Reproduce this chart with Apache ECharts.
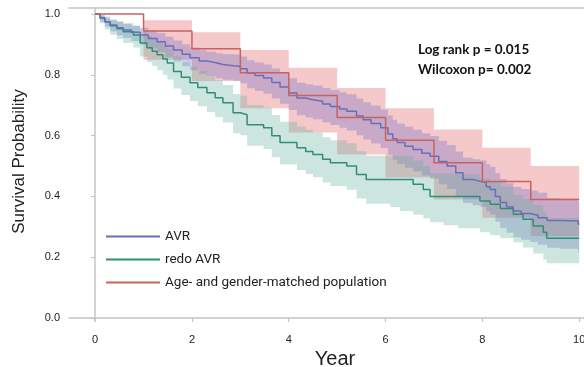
<!DOCTYPE html>
<html><head><meta charset="utf-8">
<script src="https://cdn.jsdelivr.net/npm/echarts@6/dist/echarts.min.js"></script>
<style>html,body{margin:0;padding:0;background:#fff}#c{width:584px;height:367px}</style>
</head><body><div id="c"></div>
<script>
// ---- data ----
const xTicks = [0, 2, 4, 6, 8, 10];
const yTicks = [0, 0.2, 0.4, 0.6, 0.8, 1.0];
const seriesNames = ['AVR', 'redo AVR', 'Age- and gender-matched population'];
const statLines = ['Log rank p = 0.015', 'Wilcoxon p= 0.002'];

const avrT  = [0,0.10,0.20,0.31,0.45,0.58,0.75,0.93,1.10,1.28,1.45,1.62,1.80,1.96,2.15,2.30,2.50,2.64,2.85,3.00,3.14,3.30,3.48,3.65,3.82,4.00,4.17,4.35,4.50,4.70,4.86,5.05,5.20,5.40,5.54,5.70,5.90,6.05,6.15,6.24,6.40,6.57,6.75,6.92,7.10,7.27,7.45,7.60,7.80,7.95,8.08,8.16,8.27,8.37,8.50,8.64,8.80,8.99,9.15,9.34,9.60,9.98,10.00];
const avrS  = [1.000,0.987,0.975,0.964,0.955,0.948,0.940,0.931,0.920,0.909,0.895,0.882,0.868,0.856,0.846,0.840,0.834,0.830,0.828,0.820,0.806,0.798,0.790,0.775,0.760,0.740,0.724,0.718,0.713,0.704,0.696,0.688,0.680,0.665,0.652,0.640,0.626,0.605,0.590,0.577,0.565,0.554,0.542,0.532,0.515,0.500,0.478,0.456,0.450,0.446,0.432,0.423,0.400,0.380,0.365,0.352,0.344,0.338,0.330,0.321,0.319,0.308,0.308];
const avrLo = [1.000,0.975,0.958,0.943,0.930,0.921,0.911,0.900,0.887,0.874,0.858,0.844,0.828,0.815,0.803,0.796,0.789,0.784,0.781,0.772,0.756,0.747,0.738,0.722,0.705,0.684,0.667,0.660,0.654,0.644,0.635,0.626,0.617,0.601,0.587,0.574,0.559,0.537,0.521,0.507,0.494,0.482,0.469,0.458,0.440,0.424,0.401,0.378,0.371,0.366,0.351,0.341,0.317,0.296,0.280,0.266,0.257,0.250,0.241,0.231,0.228,0.216,0.216];
const avrHi = [1.000,0.995,0.988,0.980,0.974,0.968,0.962,0.955,0.946,0.937,0.925,0.913,0.901,0.890,0.881,0.876,0.871,0.868,0.867,0.860,0.848,0.841,0.834,0.821,0.807,0.789,0.774,0.769,0.765,0.757,0.750,0.743,0.736,0.722,0.710,0.699,0.686,0.666,0.652,0.640,0.629,0.619,0.608,0.599,0.583,0.569,0.548,0.527,0.522,0.519,0.506,0.498,0.476,0.457,0.443,0.431,0.424,0.419,0.412,0.395,0.392,0.382,0.382];

const redoT  = [0,0.10,0.20,0.31,0.45,0.58,0.79,0.93,1.07,1.18,1.28,1.40,1.49,1.62,1.78,1.96,2.12,2.31,2.48,2.64,2.85,3.00,3.14,3.48,3.65,3.82,4.17,4.35,4.50,4.70,4.86,5.20,5.40,5.60,6.10,6.30,6.57,6.78,6.92,7.20,7.50,7.95,8.16,8.37,8.64,8.84,9.05,9.26,9.33,10.00];
const redoS  = [1.000,0.988,0.975,0.962,0.952,0.942,0.931,0.905,0.889,0.878,0.866,0.852,0.839,0.811,0.792,0.774,0.758,0.741,0.725,0.708,0.675,0.669,0.636,0.626,0.600,0.577,0.560,0.548,0.538,0.522,0.511,0.500,0.472,0.456,0.456,0.456,0.440,0.423,0.400,0.400,0.400,0.385,0.374,0.360,0.341,0.325,0.303,0.282,0.262,0.262];
const redoLo = [1.000,0.970,0.950,0.932,0.918,0.905,0.890,0.860,0.842,0.829,0.815,0.800,0.785,0.755,0.734,0.714,0.697,0.678,0.661,0.643,0.608,0.601,0.567,0.556,0.529,0.505,0.487,0.474,0.463,0.446,0.434,0.422,0.393,0.376,0.365,0.352,0.340,0.328,0.315,0.305,0.295,0.282,0.272,0.262,0.249,0.232,0.212,0.192,0.180,0.177];
const redoHi = [1.000,0.998,0.992,0.983,0.977,0.970,0.962,0.942,0.928,0.919,0.909,0.897,0.885,0.860,0.843,0.827,0.813,0.797,0.782,0.767,0.737,0.731,0.701,0.692,0.668,0.646,0.630,0.619,0.610,0.595,0.585,0.575,0.549,0.534,0.534,0.534,0.518,0.500,0.476,0.476,0.474,0.460,0.448,0.432,0.405,0.392,0.372,0.350,0.330,0.330];

const popT  = [0,1,2,3,4,5,6,7,8,9,10];
const popS  = [1.000,0.944,0.886,0.807,0.732,0.660,0.585,0.511,0.449,0.390,0.390];
const popLo = [1.000,0.850,0.780,0.690,0.610,0.538,0.462,0.390,0.330,0.270,0.270];
const popHi = [1.000,0.980,0.940,0.882,0.823,0.757,0.690,0.620,0.560,0.500,0.500];

// ---- build ----
const pairs = (t, v) => t.map((x, i) => [x, v[i]]);

const lineCol = ['#6a6db8', '#2f8e78', '#c8625e'];
const bandCol = ['rgba(115,110,195,0.34)', 'rgba(100,175,155,0.32)', 'rgba(228,110,115,0.38)'];

// confidence band: a step-shaped polygon placed through the axes' scales
function band(id, t, lo, hi, col) {
  return {
    name: id, type: 'custom', silent: true, z: 1, clip: true,
    data: [[t[0], hi[0]]],
    renderItem: function (params, api) {
      const top = [], bot = [];
      for (let i = 0; i < t.length; i++) {
        const x0 = t[i], x1 = i + 1 < t.length ? t[i + 1] : t[i];
        top.push(api.coord([x0, hi[i]]), api.coord([x1, hi[i]]));
        bot.push(api.coord([x0, lo[i]]), api.coord([x1, lo[i]]));
      }
      return { type: 'polygon', shape: { points: top.concat(bot.reverse()) }, style: { fill: col } };
    }
  };
}
function curve(name, t, s, col) {
  return { name, type: 'line', step: 'end', data: pairs(t, s), showSymbol: false,
    lineStyle: { color: col, width: 1.5 }, itemStyle: { color: col }, z: 3 };
}

const axisGray = '#c4c4c4';
const chart = echarts.init(document.getElementById('c'), null, { renderer: 'canvas' });
chart.setOption({
  animation: false,
  backgroundColor: '#fff',
  grid: { left: 69, right: 0, top: 8, bottom: 46, containLabel: false, outerBoundsMode: 'none' },
  xAxis: [{
    type: 'value', min: -0.54, max: 10.1,
    axisLine: { lineStyle: { color: axisGray, width: 1.5 } },
    axisTick: { customValues: xTicks, length: 4, lineStyle: { color: axisGray, width: 1.2 } },
    axisLabel: { customValues: xTicks, color: '#222', fontSize: 11, margin: 13, fontFamily: 'Liberation Sans' },
    splitLine: { show: false },
    name: 'Year', nameLocation: 'middle', nameGap: 21,
    nameTextStyle: { fontSize: 20, color: '#222', fontFamily: 'Liberation Sans', padding: [0, 0, 0, 17] }
  }, {
    type: 'value', position: 'top', min: -0.54, max: 10.1,
    axisLine: { show: true, lineStyle: { color: axisGray, width: 1.5 } },
    axisTick: { show: false }, axisLabel: { show: false }, splitLine: { show: false }
  }],
  yAxis: {
    type: 'value', min: -0.01, max: 1.02,
    axisLine: { show: true, lineStyle: { color: axisGray, width: 1.5 } },
    axisTick: { show: true, customValues: yTicks, length: 4, lineStyle: { color: axisGray, width: 1.2 } },
    axisLabel: { customValues: yTicks, color: '#222', fontSize: 11, margin: 9, fontFamily: 'Liberation Sans',
      formatter: v => v.toFixed(1) },
    splitLine: { show: false },
    name: 'Survival Probability', nameLocation: 'middle', nameGap: 41, nameRotate: 90,
    nameTextStyle: { fontSize: 17, color: '#222', fontFamily: 'Liberation Sans', padding: [0, 0, 0, 6] }
  },
  legend: {
    data: seriesNames, orient: 'vertical', left: 101, top: 220, itemGap: 0, padding: 5,
    icon: 'rect', itemWidth: 54, itemHeight: 2,
    textStyle: { fontSize: 13.5, lineHeight: 23, color: '#222', fontFamily: 'Roboto' }
  },
  graphic: [{
    type: 'text', left: 418, top: 40, z: 10,
    style: { text: statLines.join('\n'), font: 'bold 13.5px Lato', fill: '#111', lineHeight: 20 }
  }],
  series: [
    band('popBand', popT, popLo, popHi, bandCol[2]),
    band('avrBand', avrT, avrLo, avrHi, bandCol[0]),
    band('redoBand', redoT, redoLo, redoHi, bandCol[1]),
    curve(seriesNames[1], redoT, redoS, lineCol[1]),
    curve(seriesNames[0], avrT, avrS, lineCol[0]),
    curve(seriesNames[2], popT, popS, lineCol[2])
  ]
});
</script>
</body></html>
